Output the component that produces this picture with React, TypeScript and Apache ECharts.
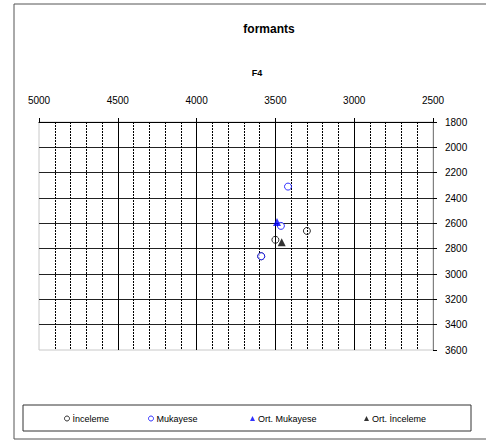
import React, { useEffect, useRef } from "react";
import * as echarts from "echarts";

const seriesNames = ["İnceleme", "Mukayese", "Ort. Mukayese", "Ort. İnceleme"];
const inceleme: number[][] = [[3300, 2660], [3500, 2730], [3590, 2860]];
const mukayese: number[][] = [[3420, 2310], [3465, 2620], [3590, 2860]];
const ortMukayese: number[][] = [[3490, 2590]];
const ortInceleme: number[][] = [[3460, 2750]];
const titleText = "formants";
const subTitleText = "F4";

const FONT = "Liberation Sans, Arial, sans-serif";

export default function App() {
  const ref = useRef<HTMLDivElement>(null);
  useEffect(() => {
    if (!ref.current) return;
    const chart = echarts.init(ref.current, undefined, { renderer: "svg" });
    const legendLefts = [64, 148, 250, 364];
    const legendIcons = ["circle", "circle", "triangle", "triangle"];
    const legendStyles = [
      { color: "#fff", borderColor: "#000", borderWidth: 1 },
      { color: "#fff", borderColor: "#0000ff", borderWidth: 1 },
      { color: "#0000ff", borderWidth: 0 },
      { color: "#000", borderWidth: 0 },
    ];
    chart.setOption({
      animation: false,
      backgroundColor: "#ffffff",
      textStyle: { fontFamily: FONT },
      grid: {
        left: 39,
        top: 122,
        right: 53,
        bottom: 91,
        show: true,
        borderColor: "#c8c8c8",
        borderWidth: 1,
      },
      legend: seriesNames.map((n, i) => ({
        data: [{ name: n, icon: legendIcons[i], itemStyle: legendStyles[i] }],
        left: legendLefts[i],
        top: 414,
        padding: 0,
        itemWidth: 5,
        itemHeight: 5,
        textStyle: { fontSize: 9, color: "#000", fontFamily: FONT, padding: [0, 0, 0, -2] },
      })),
      graphic: [
        {
          type: "rect",
          shape: { x: 14, y: 4, width: 490, height: 435 },
          style: { fill: "none", stroke: "#555", lineWidth: 1 },
          silent: true,
          z: -10,
        },
        {
          type: "rect",
          shape: { x: 23, y: 405, width: 448, height: 26 },
          style: { fill: "none", stroke: "#333", lineWidth: 1 },
          silent: true,
        },
        {
          type: "text",
          x: 269,
          y: 29,
          style: {
            text: titleText,
            fontSize: 12,
            fontWeight: "bold",
            fontFamily: FONT,
            fill: "#000",
            align: "center",
            verticalAlign: "middle",
          },
        },
        {
          type: "text",
          x: 257,
          y: 73,
          style: {
            text: subTitleText,
            fontSize: 9,
            fontWeight: "bold",
            fontFamily: FONT,
            fill: "#000",
            align: "center",
            verticalAlign: "middle",
          },
        },
      ],
      xAxis: {
        type: "value",
        position: "top",
        inverse: true,
        min: 2500,
        max: 5000,
        interval: 500,
        axisLine: { show: true, onZero: false, lineStyle: { color: "#000", width: 1 } },
        axisTick: { show: true, inside: false, length: 4, lineStyle: { color: "#000" } },
        axisLabel: { margin: 17, fontSize: 10, color: "#000", fontFamily: FONT, formatter: (v: number) => String(v) },
        splitLine: { show: true, showMaxLine: false, lineStyle: { color: "#000", width: 1 } },
        minorTick: { show: false, splitNumber: 5 },
        minorSplitLine: { show: true, lineStyle: { color: "#000", width: 1, type: [2, 1] } },
      },
      yAxis: {
        type: "value",
        position: "right",
        inverse: true,
        min: 1800,
        max: 3600,
        interval: 200,
        axisLine: { show: true, onZero: false, lineStyle: { color: "#808080", width: 1 } },
        axisTick: { show: true, inside: false, length: 4, lineStyle: { color: "#000" } },
        axisLabel: { margin: 12, fontSize: 10, color: "#000", fontFamily: FONT, formatter: (v: number) => String(v) },
        splitLine: { show: true, showMaxLine: false, lineStyle: { color: "#222", width: 1 } },
      },
      series: [
        {
          name: seriesNames[0],
          type: "scatter",
          symbol: "circle",
          symbolSize: 7,
          itemStyle: { color: "rgba(255,255,255,0)", borderColor: "#000", borderWidth: 1 },
          data: inceleme,
        },
        {
          name: seriesNames[1],
          type: "scatter",
          symbol: "circle",
          symbolSize: 7,
          itemStyle: { color: "#fff", borderColor: "#0000ff", borderWidth: 1 },
          data: mukayese,
        },
        {
          name: seriesNames[2],
          type: "scatter",
          symbol: "triangle",
          symbolSize: 8,
          itemStyle: { color: "#0000ff" },
          data: ortMukayese,
        },
        {
          name: seriesNames[3],
          type: "scatter",
          symbol: "triangle",
          symbolSize: 8,
          itemStyle: { color: "#000" },
          data: ortInceleme,
        },
      ],
    });
    return () => chart.dispose();
  }, []);
  return <div ref={ref} style={{ width: 486, height: 441, position: "absolute", left: 0, top: 0 }} />;
}
